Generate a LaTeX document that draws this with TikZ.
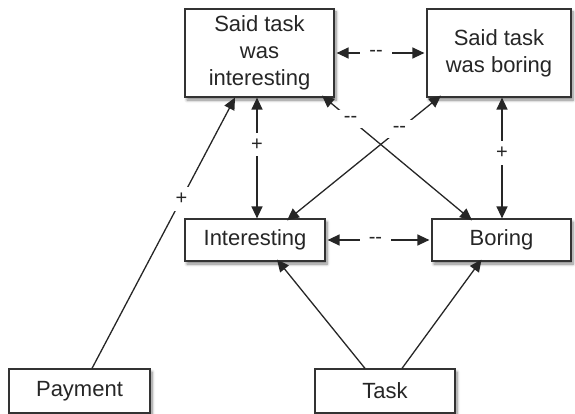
\documentclass[tikz,border=0pt]{standalone}
\usepackage{fontspec}
\setmainfont{Liberation Sans}
\usetikzlibrary{arrows.meta,shadows.blur}
\begin{document}
\begin{tikzpicture}[x=1pt,y=-1pt,
  box/.style={draw=black!80,line width=1.2pt,fill=white,inner sep=0pt,align=center,
    font=\fontsize{22}{27}\selectfont,text=black!85,
    blur shadow={shadow xshift=2pt,shadow yshift=-3pt,shadow blur steps=6,shadow blur radius=3pt,shadow opacity=50}},
  conn/.style={line width=1.3pt,draw=black!85,-{Triangle[length=12pt,width=11pt]}},
  dconn/.style={conn,{Triangle[length=12pt,width=11pt]}-{Triangle[length=12pt,width=11pt]}},
  lbl/.style={fill=white,inner sep=6pt,font=\fontsize{20}{22}\selectfont,text=black!85},
  dlbl/.style={lbl,inner xsep=9pt}
]
\useasboundingbox (0,0) rectangle (575,414);
\node[box,minimum width=149pt,minimum height=88pt] (sti) at (259.5,53) {Said task\\was\\interesting};
\node[box,minimum width=144pt,minimum height=88pt] (stb) at (499,53) {Said task\\was boring};
\node[box,minimum width=140pt,minimum height=42pt] (int) at (255,240) {Interesting};
\node[box,minimum width=139pt,minimum height=42pt] (bor) at (501.5,240) {Boring};
\node[box,minimum width=141pt,minimum height=44pt] (pay) at (79.5,391) {Payment};
\node[box,minimum width=140pt,minimum height=44pt] (task) at (385,391) {Task};

\draw[conn] ([xshift=12.5pt]pay.north) -- node[lbl,pos=0.625] {+} ([xshift=-24.5pt]sti.south);
\draw[dconn] ([xshift=-2.5pt]sti.south) -- node[lbl,pos=0.39] {+} ([xshift=2pt]int.north);
\draw[dconn] ([xshift=3pt]stb.south) -- node[lbl,pos=0.46] {+} ([xshift=0.5pt]bor.north);
\draw[dconn] ([xshift=2pt]sti.east) -- node[dlbl,pos=0.45] {-{}-} ([xshift=-2pt]stb.west);
\draw[dconn] ([xshift=2pt]int.east) -- node[dlbl,pos=0.47] {-{}-} ([xshift=-2pt]bor.west);
\draw[dconn] ([xshift=32pt,yshift=-2pt]int.north) -- node[dlbl,pos=0.73] {-{}-} ([xshift=-58pt,yshift=2pt]stb.south);
\draw[dconn] ([xshift=62.5pt,yshift=2pt]sti.south) -- node[dlbl,pos=0.19] {-{}-} ([xshift=-29.5pt,yshift=-2pt]bor.north);
\draw[conn] ([xshift=-20pt]task.north) -- ([xshift=22pt,yshift=2pt]int.south);
\draw[conn] ([xshift=17pt]task.north) -- ([xshift=-20pt,yshift=2pt]bor.south);
\end{tikzpicture}
\end{document}
